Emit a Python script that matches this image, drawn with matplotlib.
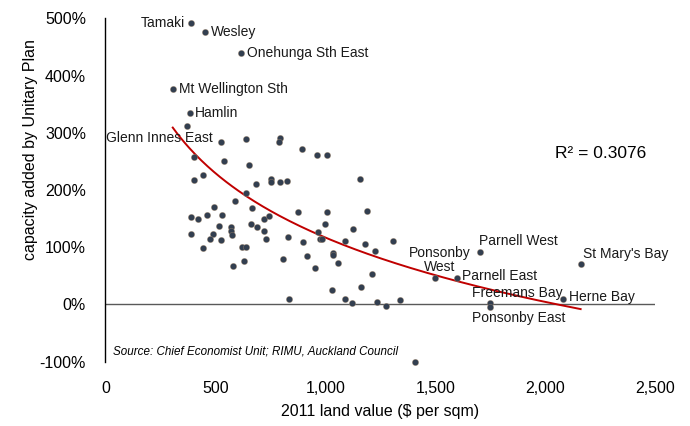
import numpy as np
import matplotlib
matplotlib.use("Agg")
import matplotlib.pyplot as plt
from matplotlib.ticker import StrMethodFormatter, FuncFormatter

plt.rcParams['font.family'] = ['Liberation Sans', 'DejaVu Sans']
plt.rcParams['axes.unicode_minus'] = False

# labelled suburbs: land value ($/sqm), capacity added (%)
names = ['Tamaki', 'Wesley', 'Onehunga Sth East', 'Mt Wellington Sth', 'Hamlin',
         'Glenn Innes East', 'Ponsonby\nWest', 'Parnell East', 'Parnell West',
         'Freemans Bay', 'Ponsonby East', 'Herne Bay', "St Mary's Bay"]
named_x = [388, 453, 618, 306, 386, 524, 1497, 1597, 1704, 1747, 1750, 2079, 2160]
named_y = [491, 476, 440, 376, 334, 284, 46, 47, 92, 3, -5, 9, 70]
# label offsets in pixels (dx, dy) and alignment
label_off = [(-6, 0), (6, 0), (6, 0), (6, 0), (5, 0), (-8, 4), (5, 18), (5, 2),
             (-1, 11), (-18, 10), (-18, -11), (6, 2), (2, 10)]
label_ha = ['right', 'left', 'left', 'left', 'left', 'right', 'center', 'left',
            'left', 'left', 'left', 'left', 'left']

# the rest of the suburbs
other_x = [372, 638, 794, 790, 892, 960, 1006, 404, 539, 654, 442, 404, 683, 753,
           753, 794, 825, 1157, 641, 590, 494, 668, 463, 531, 875, 1005, 1187, 388,
           419, 721, 745, 518, 572, 572, 576, 662, 690, 719, 998, 1124, 388, 490,
           475, 525, 728, 828, 964, 975, 985, 1089, 1180, 1227, 1309, 900, 443, 621,
           640, 1035, 1036, 808, 918, 630, 581, 953, 1056, 1212, 1029, 1162, 835,
           1091, 1121, 1235, 1277, 1340, 1409]
other_y = [312, 289, 290, 283, 272, 262, 261, 257, 250, 243, 226, 217, 210, 219,
           214, 214, 216, 220, 195, 181, 171, 168, 157, 157, 162, 162, 163, 152,
           150, 150, 155, 137, 136, 129, 122, 140, 135, 129, 140, 131, 123, 123,
           115, 113, 115, 117, 127, 114, 114, 110, 106, 94, 110, 109, 99, 100,
           100, 90, 87, 80, 84, 76, 67, 64, 72, 54, 26, 31, 9, 10, 3, 5, -2, 8, -100]

# logarithmic trendline: y = a*ln(x) + b
trend_a = -162.3
trend_b = 1238

x_ticks = [0, 500, 1000, 1500, 2000, 2500]
y_ticks = [-100, 0, 100, 200, 300, 400, 500]

fig = plt.figure(figsize=(6.9, 4.26), dpi=100)
ax = fig.add_axes([0.1528, 0.151, 0.7971, 0.806])

all_x = np.array(named_x + other_x, dtype=float)
all_y = np.array(named_y + other_y, dtype=float)

ax.scatter(all_x, all_y, s=21, color='#333f50', edgecolors='#c9a27a',
           linewidths=0.2, zorder=3, clip_on=False)

tx = np.linspace(all_x.min(), all_x.max(), 200)
ax.plot(tx, trend_a * np.log(tx) + trend_b, color='#c00000', lw=1.4, zorder=2)

for n, x, y, (dx, dy), ha in zip(names, named_x, named_y, label_off, label_ha):
    ax.annotate(n, (x, y), xytext=(dx, dy), textcoords='offset pixels',
                ha=ha, va='center', fontsize=10, color='#1a1a1a',
                multialignment='center', zorder=4, linespacing=1.0)

ax.axhline(0, color='#595959', lw=1, zorder=1)

ax.set_xlim(0, 2500)
ax.set_ylim(-100, 500)
ax.set_xticks(x_ticks)
ax.set_yticks(y_ticks)
ax.xaxis.set_major_formatter(StrMethodFormatter('{x:,.0f}'))
ax.yaxis.set_major_formatter(FuncFormatter(lambda v, p: f'{v:.0f}%'))
ax.tick_params(axis='both', length=0, labelsize=11.5, colors='#000000')
ax.tick_params(axis='x', pad=14)
ax.tick_params(axis='y', pad=14)
for s in ['top', 'right', 'bottom']:
    ax.spines[s].set_visible(False)
ax.spines['left'].set_color('#000000')
ax.spines['left'].set_linewidth(1)

ax.set_xlabel('2011 land value ($ per sqm)', fontsize=11.5, labelpad=6)
fig.text(31 / 690, 1 - 150 / 426, 'capacity added by Unitary Plan', rotation=90,
         ha='center', va='center', fontsize=11.5)

fig.text(555 / 690, 1 - 153 / 426, 'R² = 0.3076', ha='left', va='center', fontsize=12.5)
fig.text(113 / 690, 1 - 351 / 426, 'Source: Chief Economist Unit; RIMU, Auckland Council',
         ha='left', va='center', fontsize=8.4, style='italic')

fig.savefig('out.png', dpi=100)
